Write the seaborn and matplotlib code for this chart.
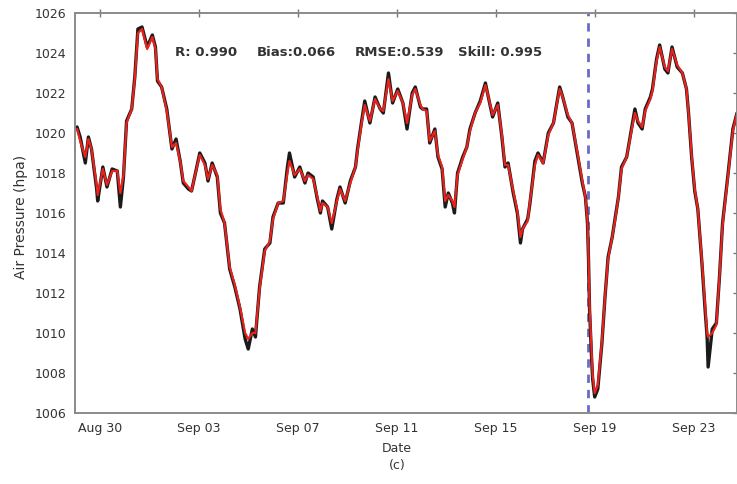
import pandas as pd
import matplotlib
matplotlib.use("Agg")
import matplotlib.pyplot as plt
import seaborn as sns

# Hours since 2015-08-29 00:00
hours = [2, 5, 10, 13, 16, 21, 22, 27, 31, 36, 41, 44, 47, 50, 55, 58, 61, 65, 70, 75,
         78, 80, 84, 89, 94, 98, 102, 105, 110, 113, 116, 121, 126, 129, 133, 138, 141, 145, 150, 155,
         160, 165, 168, 172, 175, 179, 184, 189, 192, 197, 202, 206, 208, 213, 218, 223, 226, 231, 235, 238,
         240, 245, 249, 254, 257, 262, 267, 272, 274, 278, 281, 286, 291, 296, 299, 304, 308, 313, 318, 322,
         327, 330, 335, 337, 341, 344, 349, 352, 356, 359, 362, 366, 368, 371, 376, 380, 383, 388, 393, 398,
         400, 405, 410, 414, 417, 420, 425, 429, 432, 434, 439, 441, 446, 449, 454, 459, 464, 470, 473, 478,
         482, 487, 492, 495, 497, 498, 499, 501, 502, 504, 507, 511, 514, 517, 521, 524, 527, 530, 535, 540,
         543, 546, 550, 553, 558, 560, 564, 567, 572, 575, 579, 584, 589, 593, 595, 598, 601, 604, 608, 611,
         613, 614, 618, 622, 625, 628, 633, 638, 642]

observed = [1020.3, 1019.8, 1018.5, 1019.8, 1019.2, 1017.2, 1016.6, 1018.3, 1017.3, 1018.2, 1018.1, 1016.3, 1017.8, 1020.6, 1021.2, 1022.8, 1025.2, 1025.3, 1024.3, 1024.9,
            1024.3, 1022.6, 1022.3, 1021.2, 1019.2, 1019.7, 1018.6, 1017.5, 1017.2, 1017.1, 1017.8, 1019.0, 1018.5, 1017.6, 1018.5, 1017.8, 1016.0, 1015.5, 1013.2, 1012.3,
            1011.2, 1009.7, 1009.2, 1010.2, 1009.8, 1012.3, 1014.2, 1014.5, 1015.8, 1016.5, 1016.5, 1018.3, 1019.0, 1017.8, 1018.3, 1017.5, 1018.0, 1017.8, 1016.7, 1016.0,
            1016.6, 1016.3, 1015.2, 1016.7, 1017.3, 1016.5, 1017.6, 1018.3, 1019.2, 1020.6, 1021.6, 1020.5, 1021.8, 1021.2, 1021.0, 1023.0, 1021.5, 1022.2, 1021.5, 1020.2,
            1022.0, 1022.3, 1021.3, 1021.2, 1021.2, 1019.5, 1020.2, 1018.8, 1018.2, 1016.3, 1017.0, 1016.5, 1016.0, 1018.0, 1018.8, 1019.3, 1020.2, 1021.0, 1021.6, 1022.5,
            1022.0, 1020.8, 1021.5, 1019.8, 1018.3, 1018.5, 1017.0, 1016.0, 1014.5, 1015.2, 1015.7, 1016.4, 1018.6, 1019.0, 1018.5, 1020.0, 1020.5, 1022.3, 1021.8, 1020.8,
            1020.5, 1019.0, 1017.5, 1016.8, 1015.5, 1013.7, 1011.2, 1008.7, 1007.7, 1006.8, 1007.2, 1009.5, 1011.8, 1013.8, 1014.8, 1015.8, 1016.8, 1018.3, 1018.8, 1020.3,
            1021.2, 1020.5, 1020.2, 1021.2, 1021.8, 1022.2, 1023.7, 1024.4, 1023.2, 1023.0, 1024.3, 1023.3, 1023.0, 1022.2, 1021.0, 1018.8, 1017.1, 1016.2, 1013.5, 1011.2,
            1009.8, 1008.3, 1010.2, 1010.5, 1012.8, 1015.5, 1017.8, 1020.2, 1021.0]

modeled = [1020.2, 1019.6, 1018.8, 1019.7, 1019.2, 1017.4, 1016.9, 1018.2, 1017.4, 1018.1, 1018.1, 1017.0, 1017.9, 1020.5, 1021.2, 1022.7, 1025.0, 1025.2, 1024.2, 1024.8,
           1024.2, 1022.7, 1022.3, 1021.1, 1019.3, 1019.5, 1018.6, 1017.6, 1017.3, 1017.1, 1017.8, 1018.9, 1018.4, 1017.7, 1018.4, 1017.9, 1016.2, 1015.5, 1013.3, 1012.4,
           1011.3, 1010.0, 1009.7, 1010.0, 1010.0, 1012.2, 1014.1, 1014.6, 1015.7, 1016.5, 1016.6, 1018.0, 1018.6, 1017.9, 1018.2, 1017.6, 1017.9, 1017.7, 1016.8, 1016.1,
           1016.5, 1016.3, 1015.5, 1016.6, 1017.2, 1016.6, 1017.5, 1018.3, 1019.1, 1020.5, 1021.4, 1020.6, 1021.7, 1021.2, 1021.1, 1022.7, 1021.6, 1022.1, 1021.5, 1020.5,
           1021.9, 1022.2, 1021.4, 1021.2, 1021.1, 1019.6, 1020.1, 1018.9, 1018.3, 1016.6, 1016.9, 1016.6, 1016.3, 1017.9, 1018.7, 1019.3, 1020.1, 1021.0, 1021.5, 1022.4,
           1022.0, 1020.9, 1021.4, 1019.9, 1018.4, 1018.4, 1017.1, 1016.1, 1014.8, 1015.2, 1015.6, 1016.5, 1018.4, 1018.9, 1018.5, 1019.9, 1020.5, 1022.2, 1021.8, 1020.9,
           1020.5, 1019.1, 1017.6, 1016.8, 1015.6, 1013.8, 1011.4, 1009.0, 1007.9, 1007.0, 1007.4, 1009.6, 1011.8, 1013.7, 1014.8, 1015.7, 1016.8, 1018.2, 1018.8, 1020.2,
           1021.0, 1020.6, 1020.3, 1021.1, 1021.7, 1022.1, 1023.6, 1024.3, 1023.3, 1023.1, 1024.2, 1023.4, 1023.0, 1022.2, 1021.0, 1018.9, 1017.2, 1016.2, 1013.6, 1011.4,
           1010.0, 1009.8, 1010.0, 1010.4, 1012.8, 1015.4, 1017.7, 1020.1, 1021.0]

tick_labels = ["Aug 30", "Sep 03", "Sep 07", "Sep 11", "Sep 15", "Sep 19", "Sep 23"]
scores = ["R: 0.990", "Bias:0.066", "RMSE:0.539", "Skill: 0.995"]

start = pd.Timestamp("2015-08-29 00:00")
event_time = start + pd.Timedelta(hours=497.5)
x_end = start + pd.Timedelta(hours=642)

df = pd.DataFrame({
    "Date": start + pd.to_timedelta(hours, unit="h"),
    "Observed": observed,
    "Modeled": modeled,
})

sns.set_style("white")
plt.rcParams["font.family"] = ["DejaVu Sans"]

fig = plt.figure(figsize=(7.37, 4.84), dpi=100)
ax = fig.add_axes([75 / 737, 71 / 484, 662 / 737, 400 / 484])

sns.lineplot(data=df, x="Date", y="Observed", ax=ax, color="#1a1a1a", linewidth=2.4)
sns.lineplot(data=df, x="Date", y="Modeled", ax=ax, color="#e8221c", linewidth=1.6)

ax.axvline(event_time, color="#6a6ac8", linestyle=(0, (3, 2.5)), linewidth=2.0, zorder=0.5)

ax.set_xlim(start, x_end)
ax.set_ylim(1006, 1026)
ax.set_yticks(range(1006, 1027, 2))
tick_dates = pd.date_range("2015-08-30", periods=len(tick_labels), freq="4D")
ax.set_xticks(tick_dates)
ax.set_xticklabels(tick_labels)

ax.tick_params(axis="both", direction="inout", length=6, width=1, colors="#777777",
               labelcolor="#333333", labelsize=9, top=True, right=True)
ax.tick_params(axis="y", pad=3)
for side, sp in ax.spines.items():
    sp.set_color("#8a8a8a")
    sp.set_linewidth(1.4)

ax.set_xlabel("")
ax.set_ylabel("Air Pressure (hpa)", fontsize=10, color="#333333")
ax.yaxis.set_label_coords((28 - 75) / 662, 0.49)

score_x = [0.151, 0.275, 0.423, 0.579]
for sx, s in zip(score_x, scores):
    ax.text(sx, 0.902, s, transform=ax.transAxes, fontsize=9.5, fontweight="bold",
            color="#333333", va="center", ha="left")

fig.text(397 / 737, 1 - 448 / 484, "Date", ha="center", va="center", fontsize=9, color="#333333")
fig.text(397 / 737, 1 - 466 / 484, "(c)", ha="center", va="center", fontsize=9, color="#333333")

fig.savefig("out.png", dpi=100)
